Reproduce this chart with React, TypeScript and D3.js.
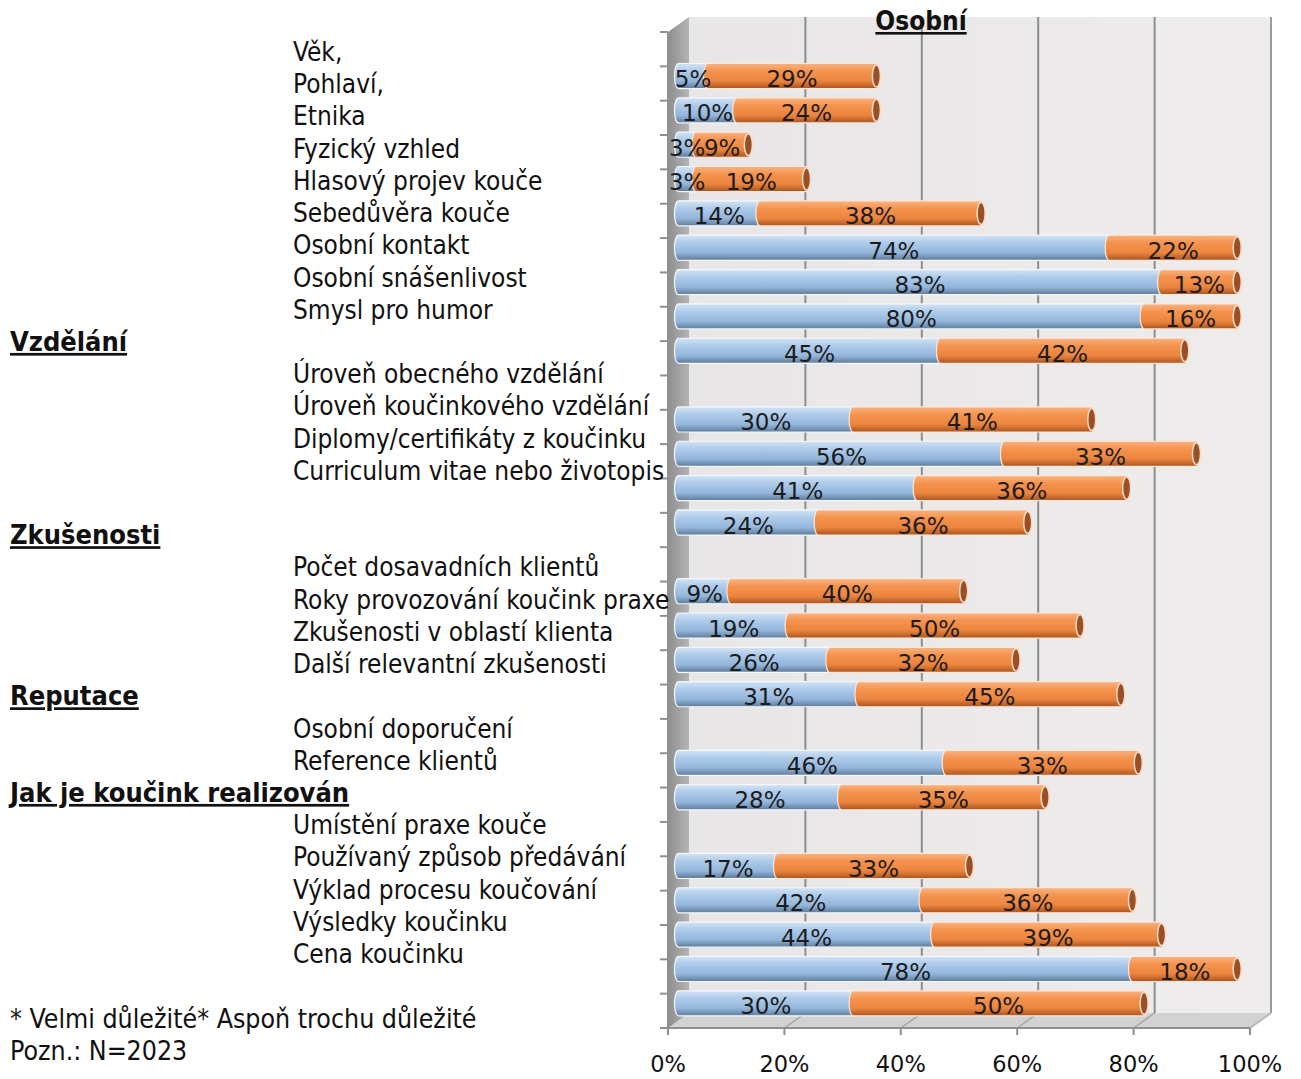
import React from "react";
import * as d3 from "d3";

// Rows of the chart, top to bottom. Group headers occupy a row with no bar.
const rows = [
  "Osobní",
  "Věk",
  "Pohlaví",
  "Etnika",
  "Fyzický vzhled",
  "Hlasový projev kouče",
  "Sebedůvěra kouče",
  "Osobní kontakt",
  "Osobní snášenlivost",
  "Smysl pro humor",
  "Vzdělání",
  "Úroveň obecného vzdělání",
  "Úroveň koučinkového vzdělání",
  "Diplomy/certifikáty z koučinku",
  "Curriculum vitae nebo životopis",
  "Zkušenosti",
  "Počet dosavadních klientů",
  "Roky provozování koučink praxe",
  "Zkušenosti v oblastí klienta",
  "Další relevantní zkušenosti",
  "Reputace",
  "Osobní doporučení",
  "Reference klientů",
  "Jak je koučink realizován",
  "Umístění praxe kouče",
  "Používaný způsob předávání",
  "Výklad procesu koučování",
  "Výsledky koučinku",
  "Cena koučinku",
];

// "Velmi důležité" share per row (null = header row)
const veryImportant: (number | null)[] = [
  null, 5, 10, 3, 3, 14, 74, 83, 80, 45,
  null, 30, 56, 41, 24,
  null, 9, 19, 26, 31,
  null, 46, 28,
  null, 17, 42, 44, 78, 30,
];

// "Aspoň trochu důležité" share per row
const somewhatImportant: (number | null)[] = [
  null, 29, 24, 9, 19, 38, 22, 13, 16, 42,
  null, 41, 33, 36, 36,
  null, 40, 50, 32, 45,
  null, 33, 35,
  null, 33, 36, 39, 18, 50,
];

// Text list on the left; headers are bold and underlined, "" leaves a blank line
const labelLines = [
  "Věk,",
  "Pohlaví,",
  "Etnika",
  "Fyzický vzhled",
  "Hlasový projev kouče",
  "Sebedůvěra kouče",
  "Osobní kontakt",
  "Osobní snášenlivost",
  "Smysl pro humor",
  "Vzdělání",
  "Úroveň obecného vzdělání",
  "Úroveň koučinkového vzdělání",
  "Diplomy/certifikáty z koučinku",
  "Curriculum vitae nebo životopis",
  "",
  "Zkušenosti",
  "Počet dosavadních klientů",
  "Roky provozování koučink praxe",
  "Zkušenosti v oblastí klienta",
  "Další relevantní zkušenosti",
  "Reputace",
  "Osobní doporučení",
  "Reference klientů",
  "Jak je koučink realizován",
  "Umístění praxe kouče",
  "Používaný způsob předávání",
  "Výklad procesu koučování",
  "Výsledky koučinku",
  "Cena koučinku",
];
const headerLines = ["Vzdělání", "Zkušenosti", "Reputace", "Jak je koučink realizován"];

const xTicks = [0, 20, 40, 60, 80, 100];
const chartTitle = "Osobní";
const footnotes = ["* Velmi důležité* Aspoň trochu důležité", "Pozn.: N=2023"];

const W = 1301;
const H = 1079;

const labelFont = "'DejaVu Sans Condensed', 'DejaVu Sans', sans-serif";
const numFont = "'DejaVu Sans', sans-serif";

export default function App() {
  // front plane of the 3D box
  const x = d3.scaleLinear().domain([0, 100]).range([668, 1250]);
  const y = d3.scaleBand<string>().domain(rows).range([32, 1028]).padding(0);
  const lineY = d3.scaleLinear().domain([0, labelLines.length - 1]).range([52, 954]);

  // depth offset of the back wall
  const dx = 21;
  const dy = -15;
  const x0 = x(0);
  const x1 = x(100);
  const yTop = y.range()[0];
  const yBot = y.range()[1];

  const barH = y.bandwidth() * 0.73;
  const r = barH / 2;
  const capRx = 4;

  const boundaries = d3.range(rows.length + 1).map((i) => yTop + i * y.step());

  const segPath = (xa: number, xb: number, cy: number) =>
    `M${xa},${cy - r} L${xb},${cy - r} A${capRx},${r} 0 0 1 ${xb},${cy + r} L${xa},${cy + r} A${capRx},${r} 0 0 1 ${xa},${cy - r} Z`;

  const bars = rows
    .map((name, i) => ({ name, a: veryImportant[i], b: somewhatImportant[i] }))
    .filter((d) => d.a !== null && d.b !== null) as { name: string; a: number; b: number }[];

  return (
    <div style={{ position: "absolute", left: 0, top: 0 }}>
      <svg width={W} height={H} viewBox={`0 0 ${W} ${H}`} style={{ display: "block", background: "#fff" }}>
        <defs>
          <linearGradient id="gBlue" x1="0" y1="0" x2="0" y2="1">
            <stop offset="0" stopColor="#d3e4f5" />
            <stop offset="0.3" stopColor="#aecbea" />
            <stop offset="0.7" stopColor="#93b6db" />
            <stop offset="1" stopColor="#5e7a98" />
          </linearGradient>
          <linearGradient id="gOrange" x1="0" y1="0" x2="0" y2="1">
            <stop offset="0" stopColor="#f9b382" />
            <stop offset="0.3" stopColor="#f5944f" />
            <stop offset="0.7" stopColor="#eb843e" />
            <stop offset="1" stopColor="#a9541f" />
          </linearGradient>
          <linearGradient id="gSide" x1="0" y1="0" x2="1" y2="0">
            <stop offset="0" stopColor="#8e8e8e" />
            <stop offset="1" stopColor="#b4b4b4" />
          </linearGradient>
          <linearGradient id="gWall" x1="0" y1="0" x2="1" y2="0">
            <stop offset="0" stopColor="#e9e6e7" />
            <stop offset="1" stopColor="#efecec" />
          </linearGradient>
        </defs>

        {/* back wall */}
        <rect x={x0 + dx} y={yTop + dy} width={x1 - x0} height={yBot - yTop} fill="url(#gWall)" />
        <line x1={x1 + dx} x2={x1 + dx} y1={yTop + dy} y2={yBot + dy} stroke="#9b9b9b" strokeWidth={2} />

        {/* gridlines on back wall */}
        {xTicks.slice(1, -1).map((t) => (
          <line key={`g${t}`} x1={x(t) + dx} x2={x(t) + dx} y1={yTop + dy} y2={yBot + dy} stroke="#8d8d8d" strokeWidth={2} />
        ))}

        {/* floor */}
        <polygon
          points={`${x0},${yBot} ${x1},${yBot} ${x1 + dx},${yBot + dy} ${x0 + dx},${yBot + dy}`}
          fill="#d2d2d2"
        />
        {xTicks.slice(1, -1).map((t) => (
          <line key={`f${t}`} x1={x(t)} y1={yBot} x2={x(t) + dx} y2={yBot + dy} stroke="#a5a5a5" strokeWidth={1.5} />
        ))}
        <line x1={x1} y1={yBot} x2={x1 + dx} y2={yBot + dy} stroke="#b8b8b8" strokeWidth={2} />

        {/* side wall */}
        <polygon
          points={`${x0},${yTop} ${x0 + dx},${yTop + dy} ${x0 + dx},${yBot + dy} ${x0},${yBot}`}
          fill="url(#gSide)"
        />

        {/* axes */}
        <line x1={x0} x2={x0} y1={yTop} y2={yBot} stroke="#8f8f8f" strokeWidth={2} />
        {boundaries.map((b, i) => (
          <line key={`yt${i}`} x1={x0 - 8} x2={x0} y1={b} y2={b} stroke="#8f8f8f" strokeWidth={2} />
        ))}
        <line x1={x0 - 8} x2={x1} y1={yBot} y2={yBot} stroke="#8f8f8f" strokeWidth={2} />
        {xTicks.map((t) => (
          <line key={`xt${t}`} x1={x(t)} x2={x(t)} y1={yBot} y2={yBot + 7} stroke="#8f8f8f" strokeWidth={2} />
        ))}
        {xTicks.map((t) => (
          <text key={`xl${t}`} x={x(t)} y={1072} textAnchor="middle" fontFamily={numFont} fontSize={22.5} fill="#111">
            {`${t}%`}
          </text>
        ))}

        {/* cylinders */}
        {bars.map((d) => {
          const cy = (y(d.name) as number) + y.bandwidth() / 2 + dy / 2;
          const ox = dx / 2;
          const xa = x(0) + ox;
          const xm = x(d.a) + ox;
          const xb = x(d.a + d.b) + ox;
          return (
            <g key={d.name}>
              <path d={segPath(xa, xm, cy)} fill="url(#gBlue)" stroke="#f4f8fc" strokeWidth={1.2} />
              <path d={segPath(xm, xb, cy)} fill="url(#gOrange)" stroke="#fbe8da" strokeWidth={1.2} />
              <ellipse cx={xb} cy={cy} rx={capRx} ry={r - 1.5} fill="#9a4f25" stroke="#f6dcc8" strokeWidth={1.5} />
              <text x={(xa + xm) / 2} y={cy + 11} textAnchor="middle" fontFamily={numFont} fontSize={23} fill="#1c1c1c">
                {`${d.a}%`}
              </text>
              <text x={(xm + xb) / 2} y={cy + 11} textAnchor="middle" fontFamily={numFont} fontSize={23} fill="#1c1c1c">
                {`${d.b}%`}
              </text>
            </g>
          );
        })}

        {/* title */}
        <text
          x={921}
          y={30}
          textAnchor="middle"
          fontFamily={labelFont}
          fontWeight="bold"
          fontSize={26}
          textDecoration="underline"
          fill="#111"
        >
          {chartTitle}
        </text>

        {/* left-hand list */}
        {labelLines.map((t, i) => {
          if (!t) return null;
          const isHeader = headerLines.includes(t);
          return (
            <text
              key={`l${i}`}
              x={isHeader ? 10 : 293}
              y={lineY(i) + 9}
              fontFamily={labelFont}
              fontSize={isHeader ? 27 : 26}
              fontWeight={isHeader ? "bold" : "normal"}
              textDecoration={isHeader ? "underline" : undefined}
              fill="#111"
            >
              {t}
            </text>
          );
        })}

        {/* notes */}
        {footnotes.map((t, i) => (
          <text key={`n${i}`} x={10} y={1028 + i * 32} fontFamily={labelFont} fontSize={26.5} fill="#111">
            {t}
          </text>
        ))}
      </svg>
    </div>
  );
}
